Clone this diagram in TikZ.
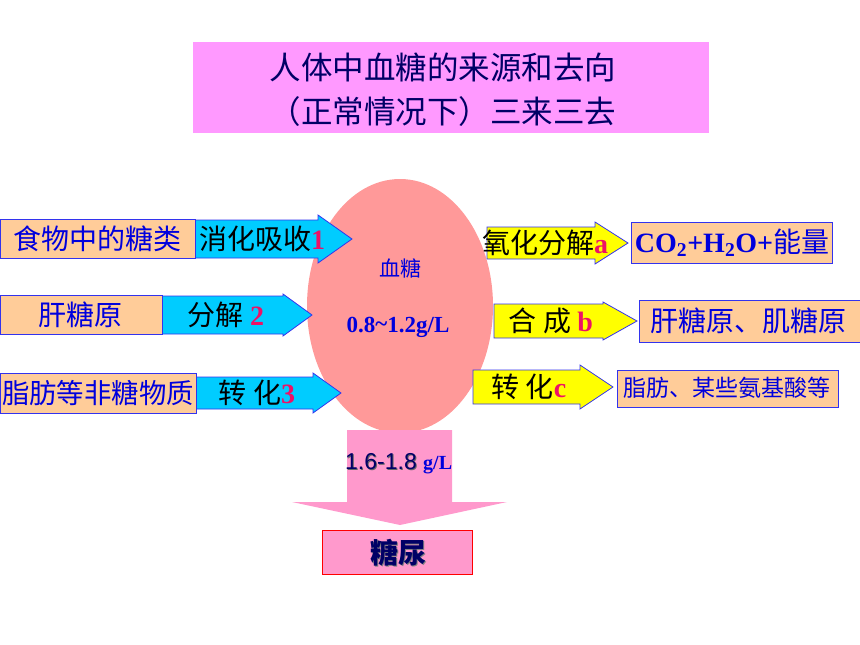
\documentclass[tikz,border=0pt]{standalone}
\usepackage{fontspec}
\setmainfont{Liberation Serif}
\newfontfamily\cjk{Noto Sans CJK SC}
\newfontfamily\arialf{Liberation Sans}
\usetikzlibrary{shapes.geometric}
\definecolor{cyanA}{HTML}{00CCFF}
\definecolor{yel}{HTML}{FFFF00}
\definecolor{peach}{HTML}{FFCC99}
\definecolor{bord}{HTML}{3333EE}
\definecolor{txtblue}{HTML}{0000DD}
\definecolor{numred}{HTML}{EE1166}
\definecolor{navy}{HTML}{000066}
\definecolor{salmon}{HTML}{FF9999}
\definecolor{pinkA}{HTML}{FF99CC}
\definecolor{titlepink}{HTML}{FF99FF}
\newcommand{\blockarrow}[7]{%
  \draw[arrowline, fill=#1] (#2,#5-#6) -- (#3,#5-#6) -- (#3,#5-#7) -- (#4,#5)
    -- (#3,#5+#7) -- (#3,#5+#6) -- (#2,#5+#6) -- cycle;}
\newcommand{\rnum}[1]{{\rmfamily\bfseries\color{numred}#1}}
\begin{document}
\begin{tikzpicture}[x=1pt,y=-1pt,
  arrowline/.style={draw=bord, line width=0.8pt, line join=miter},
  srcbox/.style={draw=bord, line width=0.8pt, fill=peach},
  lbl/.style={font=\cjk\fontsize{28}{30}\selectfont, text=black, inner sep=0},
  boxtxt/.style={font=\cjk\fontsize{28}{30}\selectfont, text=txtblue, inner sep=0}]
\useasboundingbox (0,0) rectangle (860,645);
% title
\fill[titlepink] (193,42) rectangle (709,133);
\node[font=\cjk\fontsize{31.5}{44}\selectfont, text=navy, align=center] (title) at (443,90)
  {人体中血糖的来源和去向\\（正常情况下）三来三去};
% blood sugar ellipse
\node[ellipse, fill=salmon, minimum width=186pt, minimum height=254pt, inner sep=0] (blood) at (400,306) {};
\node[font=\cjk\fontsize{21}{23}\selectfont, text=txtblue] (bt) at (400,268) {血糖};
\node[font=\rmfamily\bfseries\fontsize{23}{25}\selectfont, text=txtblue] (bv) at (398,327) {0.8\raisebox{0.1ex}{\char`~}1.2g/L};
% left arrows
\blockarrow{cyanA}{195}{318}{352}{239}{19}{24}
\blockarrow{cyanA}{162}{283}{312}{315}{19}{21}
\blockarrow{cyanA}{196}{313}{341}{393}{16}{20}
\node[srcbox, minimum width=195pt, minimum height=39pt, inner sep=0] (L1) at (97.5,238.5) {};
\node[srcbox, minimum width=162pt, minimum height=39pt, inner sep=0] (L2) at (81,314.5) {};
\node[srcbox, minimum width=196pt, minimum height=40pt, inner sep=0] (L3) at (98,393) {};
\node[boxtxt] (L1t) at (97,239) {食物中的糖类};
\node[boxtxt] (L2t) at (80,315) {肝糖原};
\node[boxtxt, font=\cjk\fontsize{27.4}{29}\selectfont] (L3t) at (98,393) {脂肪等非糖物质};
\node[lbl] (A1) at (262,239) {消化吸收\rnum{1}};
\node[lbl] (A2) at (226,315) {分解 \rnum{2}};
\node[lbl] (A3) at (257,393) {转 化\rnum{3}};
% right arrows
\blockarrow{yel}{487}{595}{628}{243}{16}{21}
\blockarrow{yel}{494}{603}{637}{321}{17}{19}
\blockarrow{yel}{473}{580}{613}{387}{17}{22}
\node[lbl] (Ba) at (545,243) {氧化分解\rnum{a}};
\node[lbl] (Bb) at (551,321) {合 成 \rnum{b}};
\node[lbl] (Bc) at (529,387) {转 化\rnum{c}};
\node[srcbox, minimum width=201pt, minimum height=41pt, inner sep=0] (R1) at (731.5,242.5) {};
\node[srcbox, minimum width=223pt, minimum height=42pt, inner sep=0] (R2) at (750.5,321) {};
\node[srcbox, minimum width=221pt, minimum height=37pt, inner sep=0] (R3) at (727.5,388.5) {};
\node[boxtxt] (R1t) at (732,243) {{\rmfamily\bfseries CO\textsubscript{2}+H\textsubscript{2}O+}能量};
\node[boxtxt] (R2t) at (748,321) {肝糖原、肌糖原};
\node[boxtxt, font=\cjk\fontsize{23}{25}\selectfont] (R3t) at (727,388) {脂肪、某些氨基酸等};
% downward arrow
\fill[pinkA] (347,430) -- (452,430) -- (452,502) -- (507,502) -- (400,525) -- (292,502) -- (347,502) -- cycle;
\node[font=\arialf\fontsize{23}{25}\selectfont, text=black!60, inner sep=0] at (382,463) {1.6-1.8};
\node[font=\arialf\fontsize{23}{25}\selectfont, text=navy, inner sep=0] (down) at (381,462) {1.6-1.8};
\node[font=\rmfamily\bfseries\fontsize{20}{22}\selectfont, text=txtblue, inner sep=0, anchor=base west] (gl) at ([xshift=6pt]down.base east) {g/L};
% urine box
\node[draw=red, fill=pinkA, line width=0.8pt, minimum width=150pt, minimum height=44pt, inner sep=0] (urine) at (397,552) {};
\node[font=\cjk\bfseries\fontsize{28}{30}\selectfont, text=black!50, inner sep=0] at (399,554) {糖尿};
\node[font=\cjk\bfseries\fontsize{28}{30}\selectfont, text=navy, inner sep=0] (ut) at (398,553) {糖尿};
\end{tikzpicture}
\end{document}
